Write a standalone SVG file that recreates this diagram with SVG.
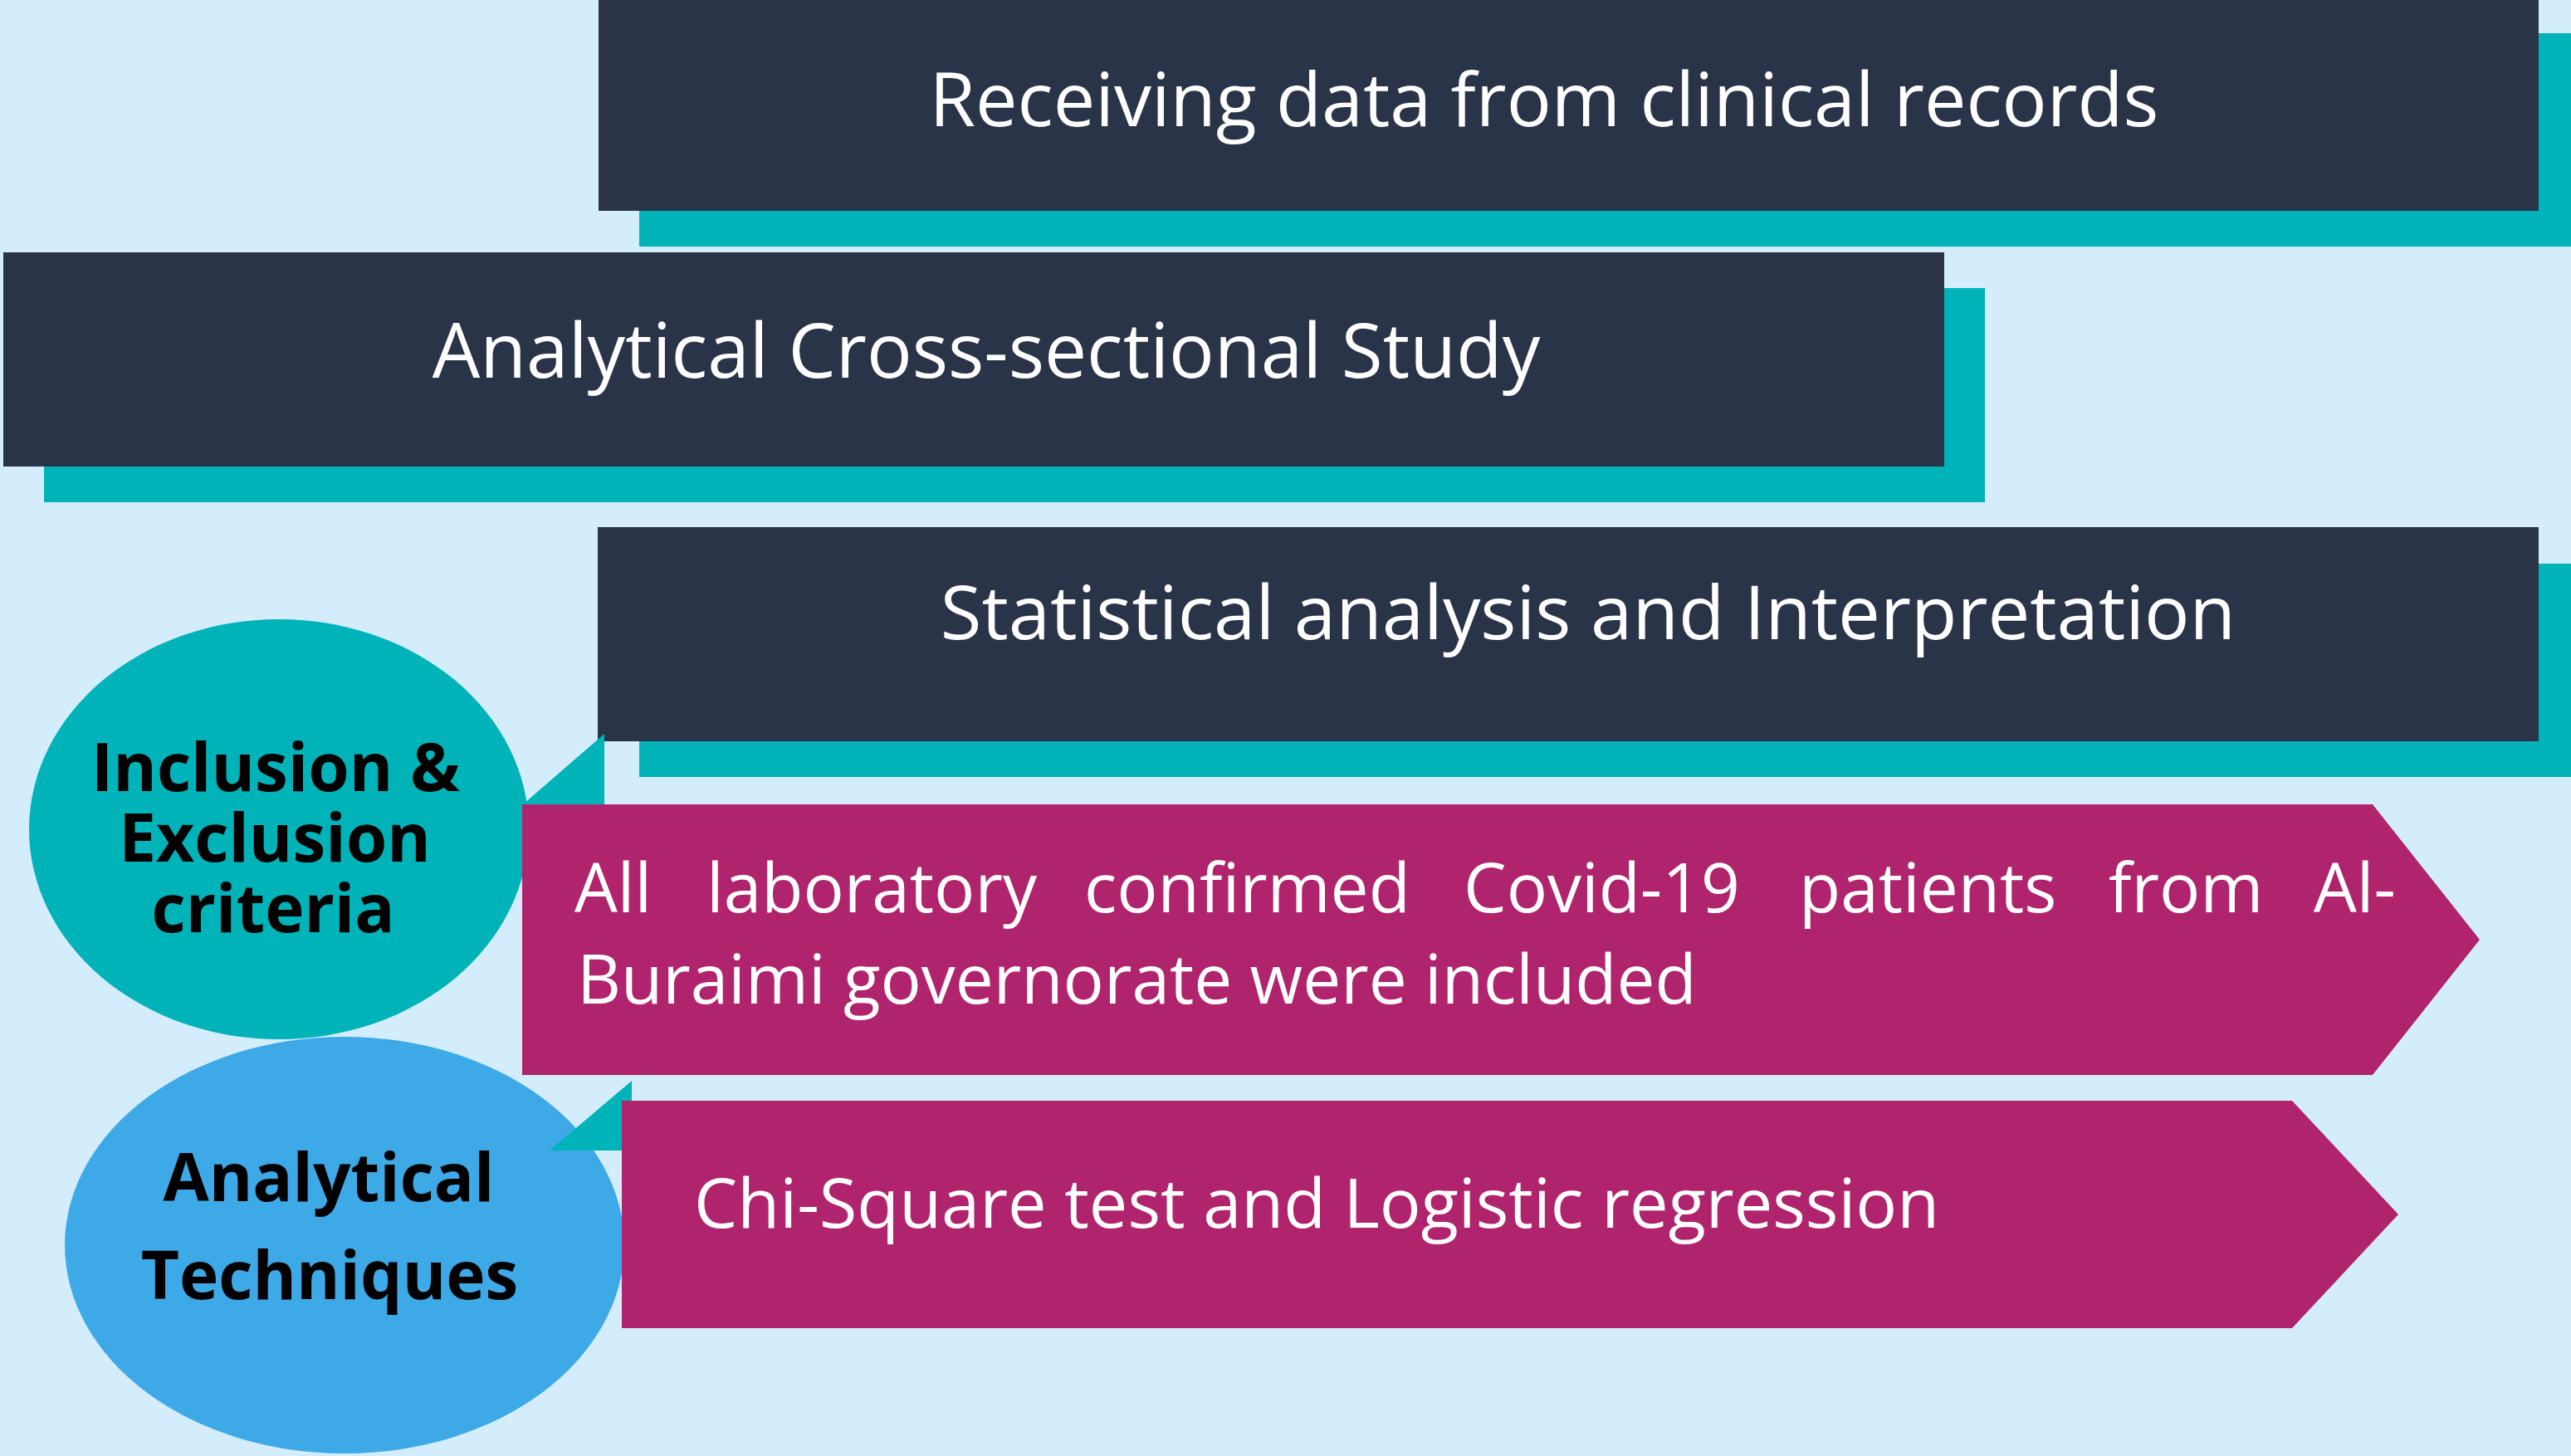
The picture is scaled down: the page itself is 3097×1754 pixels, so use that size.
<svg xmlns="http://www.w3.org/2000/svg" width="3097" height="1754" viewBox="0 0 3097 1754">
  <style>
    .dark { fill: #2A3448; }
    .teal { fill: #00B3B9; }
    .mag { fill: #AF246D; }
    .blue { fill: #3EA9E7; }
    .wt { fill: #FFFFFF; font-family: "Open Sans", "Noto Sans", "Liberation Sans", sans-serif; font-weight: 400; }
    .bt { fill: #000000; font-family: "Open Sans", "Noto Sans", "Liberation Sans", sans-serif; font-weight: 700; font-size: 80px; text-anchor: middle; }
  </style>
  <rect x="0" y="0" width="3097" height="1754" fill="#D4EDFD"/>

  <g id="node-receiving">
    <rect class="teal" x="770" y="40" width="2327" height="257"/>
    <rect class="dark" x="721" y="-2" width="2337" height="256"/>
    <text class="wt" x="1860" y="152" font-size="90" text-anchor="middle">Receiving data from clinical records</text>
  </g>

  <g id="node-study">
    <rect class="teal" x="53" y="347" width="2338" height="258"/>
    <rect class="dark" x="4" y="304" width="2338" height="258"/>
    <text class="wt" x="1188" y="455" font-size="91" text-anchor="middle">Analytical Cross-sectional Study</text>
  </g>

  <g id="node-statistical">
    <rect class="teal" x="770" y="679" width="2327" height="257"/>
    <rect class="dark" x="720" y="635" width="2338" height="258"/>
    <text class="wt" x="1913" y="770" font-size="90.6" text-anchor="middle">Statistical analysis and Interpretation</text>
  </g>

  <g id="node-analytical-techniques">
    <ellipse class="blue" cx="415" cy="1500" rx="337" ry="251"/>
    <text class="bt" x="396" y="1447">Analytical</text>
    <text class="bt" x="397" y="1565">Techniques</text>
  </g>

  <g id="node-inclusion-exclusion">
    <ellipse class="teal" cx="336" cy="999" rx="301" ry="253"/>
    <text class="bt" x="332" y="953">Inclusion &amp;</text>
    <text class="bt" x="331" y="1038">Exclusion</text>
    <text class="bt" x="329" y="1123">criteria</text>
  </g>

  <g id="connectors">
    <polygon class="teal" points="728,884 630,969 728,969"/>
    <polygon class="teal" points="761,1302 662,1386 761,1386"/>
  </g>

  <g id="node-inclusion-text">
    <polygon class="mag" points="629,969 2858,969 2987,1132 2858,1295 629,1295"/>
    <text class="wt" font-size="82" y="1099">
      <tspan x="692">All</tspan>
      <tspan x="851">laboratory</tspan>
      <tspan x="1306">confirmed</tspan>
      <tspan x="1763">Covid-19</tspan>
      <tspan x="2167">patients</tspan>
      <tspan x="2540">from</tspan>
      <tspan x="2787">Al-</tspan>
    </text>
    <text class="wt" font-size="82" x="695" y="1209">Buraimi governorate were included</text>
  </g>

  <g id="node-analytical-text">
    <polygon class="mag" points="749,1326 2761,1326 2889,1463 2761,1600 749,1600"/>
    <text class="wt" font-size="83" x="836" y="1479">Chi-Square test and Logistic regression</text>
  </g>
</svg>
